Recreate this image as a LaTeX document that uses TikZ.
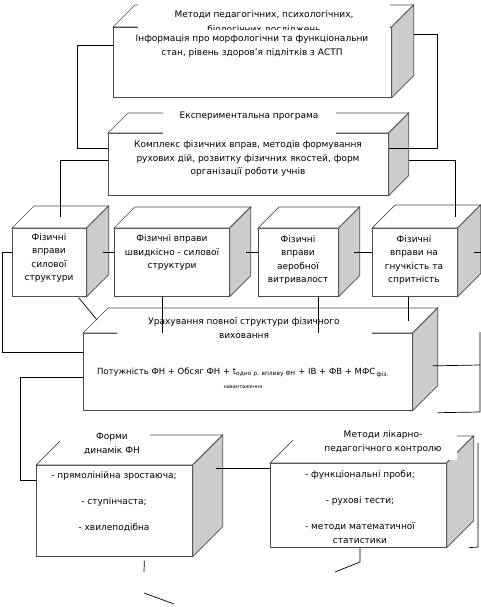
\documentclass[tikz,border=0pt]{standalone}
\usepackage{fontspec}
\setmainfont{DejaVu Sans}
\usetikzlibrary{calc}

\tikzset{
	face/.style={draw=black!70, fill=white, inner sep=0pt, anchor=north west},
	txt/.style={inner sep=0pt, align=center},
}
\newcommand\sides[2]{%
	\draw[black!70, fill=white] (#1.north west) -- ++(#2,-#2) -- ([shift={(#2,-#2)}]#1.north east) -- (#1.north east) -- cycle;
	\draw[black!70, fill=black!20] (#1.north east) -- ([shift={(#2,-#2)}]#1.north east) -- ([shift={(#2,-#2)}]#1.south east) -- (#1.south east) -- cycle;
}

\begin{document}
\begin{tikzpicture}[x=1pt, y=-1pt, line width=0.7pt, font=\fontsize{9}{14}\selectfont]
	\useasboundingbox (0,0) rectangle (481,607);
	% top box
	\node[face, minimum width=278pt, minimum height=70pt] (top) at (113,27) {};
	\sides{top}{22}
	\fill[white] (138,2) rectangle (390,30);
	\node[txt, font=\fontsize{9}{15}\selectfont] (topcap) at (264,22) {Методи педагогічних, психологічних,\\біологічних досліджень};
	\fill[white] (116,30) rectangle (388,62);
	\node[txt] (info) at (252,46) {Інформація про морфологічни та функціональни\\стан, рівень здоров’я підлітків з АСТП};
	% program
	\node[face, minimum width=280pt, minimum height=62pt] (prog) at (108,133) {};
	\sides{prog}{20}
	\fill[white] (163,110) rectangle (336,136);
	\node[txt] (progcap) at (249,116) {Експериментальна програма};
	\node[txt, font=\fontsize{9}{13.5}\selectfont] (progtxt) at (248,159) {Комплекс фізичних вправ, методів формування\\рухових дій, розвитку фізичних якостей, форм\\організації роботи учнів};
	% four kinds of exercises
	\node[face, minimum width=74pt, minimum height=68pt] (c1) at (12,228) {};
	\sides{c1}{22}
	\node[txt, font=\fontsize{9}{13.5}\selectfont] (c1t) at (49,258) {Фізичні\\вправи\\силової\\структури};
	\node[face, minimum width=115pt, minimum height=68pt] (c2) at (114,228) {};
	\sides{c2}{21}
	\node[txt, font=\fontsize{9}{13.5}\selectfont] (c2t) at (172,253) {Фізичні вправи\\швидкісно - силової\\структури};
	\node[face, minimum width=80pt, minimum height=68pt] (c3) at (258,228) {};
	\sides{c3}{21}
	\node[txt, font=\fontsize{9}{13.5}\selectfont] (c3t) at (298,260) {Фізичні\\вправи\\аеробної\\витривалост};
	\node[face, minimum width=85pt, minimum height=68pt] (c4) at (372,228) {};
	\sides{c4}{23}
	\node[txt, font=\fontsize{9}{13.5}\selectfont] (c4t) at (414,260) {Фізичні\\вправи на\\гнучкість та\\спритність};
	% full structure
	\node[face, minimum width=329pt, minimum height=77pt] (big) at (83,333) {};
	\sides{big}{25}
	\fill[white] (117,311) rectangle (372,341);
	\node[txt] (bigcap) at (244,328) {Урахування повної структури фізичного\\виховання};
	\node[txt, font=\fontsize{8.5}{14}\selectfont] (bigtxt) at (243,378) {Потужність ФН + Обсяг ФН + t\textsubscript{одно р. впливу ФН} + ІВ + ФВ + МФС\,\textsubscript{фіз.}\\{\tiny навантаження}};
	% load dynamics
	\node[face, minimum width=156pt, minimum height=91pt] (dyn) at (36,465) {};
	\sides{dyn}{30}
	\fill[white] (60,424) rectangle (150,462);
	\node[txt] (dyncap) at (112,444) {Форми\\динамік ФН};
	\node[txt] (dyntxt) at (114,502) {- прямолінійна зростаюча;\\[12pt]- ступінчаста;\\[12pt]- хвилеподібна};
	% control
	\node[face, minimum width=176pt, minimum height=84pt] (ctl) at (270,463) {};
	\sides{ctl}{27}
	\fill[white] (293,424) rectangle (457,460);
	\node[txt] (ctlcap) at (383,442) {Методи лікарно-\\педагогічного контролю};
	\node[txt] (ctltxt) at (360,507) {- функціональні проби;\\[12pt]- рухові тести;\\[12pt]- методи математичної\\статистики};
	% connectors
	\coordinate (tl) at (77,148);
	\coordinate (tr) at (437,148);
	\draw ([yshift=-18pt]top.north west) -| (tl) -- (tl -| prog.west);
	\draw ([xshift=22pt,yshift=-7pt]top.north east) -| (tr) -- (tr -| prog.east);
	\coordinate (pl) at (60,217);
	\coordinate (pr) at (455,217);
	\draw ([yshift=4pt]prog.west) -| (pl);
	\draw ([xshift=20pt,yshift=4pt]prog.east) -| (pr);
	\coordinate (row) at (0,252);
	\coordinate (rr) at (481,252);
	\draw ($(c1.east |- row)+(16,0)$) -- (c2.west |- row);
	\draw ($(c2.east |- row)+(16,0)$) -- (c3.west |- row);
	\draw ($(c3.east |- row)+(15,0)$) -- (c4.west |- row);
	\draw ($(c4.east |- row)+(16,0)$) -- (rr);
	\coordinate (l1) at (2,352);
	\draw (c1.west |- row) -| (l1) -- (l1 -| big.west);
	\draw ($(c1.south east)+(-8,1)$) -- ($(big.north west)+(14,-13)$);
	\coordinate (b2) at ($(c2.south)+(-10,0)$);
	\coordinate (b3) at ($(c3.south)+(20,0)$);
	\coordinate (b4) at ($(c4.south)+(-7,0)$);
	\draw (b2) -- (b2 |- big.north);
	\draw (b3) -- (b3 |- big.north);
	\draw (b4) -- ($(b4)+(0,24)$);
	\coordinate (r0) at (480,365);
	\coordinate (r1) at (480,332);
	\coordinate (r2) at (480,412);
	\draw ($(big.east)+(20,-6)$) -- (r0);
	\draw (r1) -- (r2) -- ($(big.south east)+(25,2)$);
	\coordinate (l2) at (20,480);
	\draw ($(big.south west)+(0,-33)$) -| (l2) -- (l2 -| dyn.west);
	\draw ($(dyn.north east)+(23,3)$) -- ($(ctl.north west)+(0,5)$);
	\coordinate (k1) at (478,443);
	\coordinate (k2) at (478,547);
	\draw (k1) -- (k2) -- ($(ctl.south east)+(22,0)$);
	\coordinate (d1) at (144,572);
	\coordinate (d2) at (144,593);
	\coordinate (d3) at (174,604);
	\draw ($(dyn.south)+(30,4)$) -- (d1);
	\draw (d2) -- (d3);
	\coordinate (e1) at (360,562);
	\coordinate (e2) at (335,572);
	\draw (ctl.south -| e1) -- (e1) -- (e2);
\end{tikzpicture}
\end{document}
